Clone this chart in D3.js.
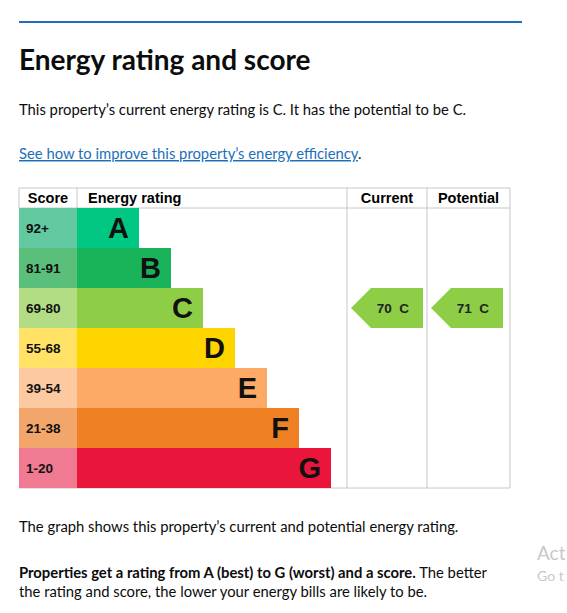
<!DOCTYPE html>
<html><head><meta charset="utf-8">
<script src="https://cdn.jsdelivr.net/npm/d3@7"></script>
<style>body{margin:0;background:#fff;font-family:Lato,"Noto Sans",sans-serif;}</style>
</head><body>
<svg id="vis-svg" width="567" height="613"></svg>
<script>
// Data
var bands   = ['A','B','C','D','E','F','G'];
var scores  = ['92+','81-91','69-80','55-68','39-54','21-38','1-20'];
var colours = ['#00c781','#19b459','#8dce46','#ffd500','#fcaa65','#ef8023','#e9153b'];
var scoreColours = ['#62c9a0','#5bbf7c','#b3dd85','#ffe266','#fdc9a0','#f3a66b','#f07a92'];
var current   = {score: 70, band: 'C'};
var potential = {score: 71, band: 'C'};

var svg = d3.select('#vis-svg');

// Page chrome
svg.append('line').attr('x1',19).attr('x2',522).attr('y1',22).attr('y2',22)
  .attr('stroke','#1d70b8').attr('stroke-width',2);
svg.append('text').attr('x',19).attr('y',70).attr('font-size',28).attr('font-weight','bold')
  .attr('fill','#0b0c0c').text('Energy rating and score');
svg.append('text').attr('x',19).attr('y',115).attr('font-size',14.8).attr('fill','#0b0c0c')
  .text('This property\u2019s current energy rating is C. It has the potential to be C.');
var link = svg.append('text').attr('x',19).attr('y',159).attr('font-size',14.8).attr('fill','#1d70b8');
link.append('tspan').attr('text-decoration','underline').text('See how to improve this property\u2019s energy efficiency');
link.append('tspan').attr('fill','#0b0c0c').text('.');

// Table scales
var left = 19, scoreRight = 77, curX = 347, potX = 427, right = 510;
var tableTop = 188, headH = 20, bottom = 488;
var y = d3.scaleBand().domain(bands).range([tableTop+headH, bottom]);
var barEnd = d3.scaleLinear().domain([0,6]).range([139,331]);

var g = svg.append('g').attr('font-family','Arial, "Liberation Sans", sans-serif');

// Grid lines
var grey = '#c8c8c8';
[[left,tableTop,right,tableTop],[left,tableTop+headH,right,tableTop+headH],[left,bottom,right,bottom],
 [curX,tableTop,curX,bottom],[potX,tableTop,potX,bottom],[right,tableTop,right,bottom],
 [scoreRight,tableTop,scoreRight,tableTop+headH],[left,tableTop,left,tableTop+headH]]
 .forEach(function(l){
  g.append('line').attr('x1',l[0]).attr('y1',l[1]).attr('x2',l[2]).attr('y2',l[3])
   .attr('stroke',grey).attr('stroke-width',1);
 });

// Headers
var hy = tableTop+headH/2+5;
g.append('text').attr('x',48).attr('y',hy).attr('text-anchor','middle').attr('font-size',14.5).attr('font-weight','bold').text('Score');
g.append('text').attr('x',88).attr('y',hy).attr('font-size',14.5).attr('font-weight','bold').text('Energy rating');
g.append('text').attr('x',(curX+potX)/2).attr('y',hy).attr('text-anchor','middle').attr('font-size',14.5).attr('font-weight','bold').text('Current');
g.append('text').attr('x',(potX+right)/2).attr('y',hy).attr('text-anchor','middle').attr('font-size',14.5).attr('font-weight','bold').text('Potential');

// Rows
var rows = g.selectAll('.row').data(bands).enter().append('g');
rows.append('rect').attr('x',left).attr('y',function(d){return y(d);})
  .attr('width',scoreRight-left).attr('height',y.bandwidth())
  .attr('fill',function(d,i){return scoreColours[i];});
rows.append('text').attr('x',26).attr('y',function(d){return y(d)+y.bandwidth()/2+5;})
  .attr('font-size',13.5).attr('font-weight','bold').attr('fill','#111')
  .text(function(d,i){return scores[i];});
rows.append('rect').attr('x',scoreRight).attr('y',function(d){return y(d);})
  .attr('width',function(d,i){return barEnd(i)-scoreRight;}).attr('height',y.bandwidth())
  .attr('fill',function(d,i){return colours[i];});
rows.append('text').attr('x',function(d,i){return barEnd(i)-10;})
  .attr('y',function(d){return y(d)+y.bandwidth()/2+10;})
  .attr('text-anchor','end').attr('font-size',29).attr('font-weight','bold').attr('fill','#111')
  .text(function(d){return d;});

// Arrows
function arrow(x0, x1, r){
  var yt = y(r.band), h = y.bandwidth(), c = colours[bands.indexOf(r.band)];
  var pts = [[x0,yt+h/2],[x0+20,yt],[x1,yt],[x1,yt+h],[x0+20,yt+h]];
  g.append('path').attr('d', d3.line()(pts)+'Z').attr('fill',c);
  g.append('text').attr('x',x1-14).attr('y',yt+h/2+5).attr('text-anchor','end')
    .attr('font-size',13.5).attr('font-weight','bold').attr('fill','#222')
    .attr('xml:space','preserve').text(r.score+'  '+r.band);
}
arrow(351,423,current);
arrow(431,503,potential);

// Footer text
svg.append('text').attr('x',19).attr('y',532).attr('font-size',14.8).attr('fill','#0b0c0c')
  .text('The graph shows this property\u2019s current and potential energy rating.');
var t = svg.append('text').attr('x',19).attr('y',578).attr('font-size',14.8).attr('fill','#0b0c0c');
t.append('tspan').attr('font-weight','bold').text('Properties get a rating from A (best) to G (worst) and a score.');
t.append('tspan').text(' The better');
svg.append('text').attr('x',19).attr('y',597).attr('font-size',14.8).attr('fill','#0b0c0c')
  .text('the rating and score, the lower your energy bills are likely to be.');
svg.append('text').attr('x',537).attr('y',560).attr('font-size',19).attr('fill','#c8c8c8').text('Act');
svg.append('text').attr('x',537).attr('y',581).attr('font-size',14).attr('fill','#c8c8c8').text('Go t');
</script>
</body></html>
